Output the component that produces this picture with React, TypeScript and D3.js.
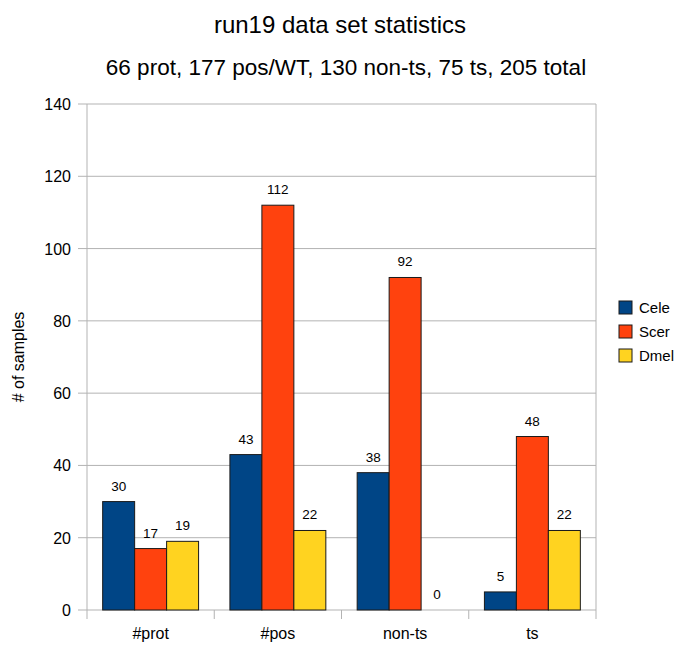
import React from "react";
import * as d3 from "d3";

const categories = ["#prot", "#pos", "non-ts", "ts"];
const seriesNames = ["Cele", "Scer", "Dmel"];
const cele = [30, 43, 38, 5];
const scer = [17, 112, 92, 48];
const dmel = [19, 22, 0, 22];
const yTicks = [0, 20, 40, 60, 80, 100, 120, 140];
const colors = ["#004586", "#ff420e", "#ffd320"];

const W = 675;
const H = 645;
const plot = { left: 87, right: 596, top: 104, bottom: 610 };
const font = "'Liberation Sans', Arial, sans-serif";

export default function App() {
  const series = [cele, scer, dmel];
  const x = d3
    .scaleBand<string>()
    .domain(categories)
    .range([plot.left, plot.right])
    .paddingInner(0)
    .paddingOuter(0);
  const inner = d3
    .scaleBand<string>()
    .domain(seriesNames)
    .range([0, x.bandwidth()])
    .paddingOuter(0.49)
    .paddingInner(0);
  const y = d3.scaleLinear().domain([0, 140]).range([plot.bottom, plot.top]);

  return (
    <svg
      width={W}
      height={H}
      style={{ position: "absolute", left: 0, top: 0, background: "#fff" }}
      fontFamily={font}
    >
      <text x={340} y={33} textAnchor="middle" fontSize={24} fill="#000">
        run19 data set statistics
      </text>
      <text x={346} y={75} textAnchor="middle" fontSize={22.5} fill="#000">
        66 prot, 177 pos/WT, 130 non-ts, 75 ts, 205 total
      </text>

      {/* grid and y ticks */}
      {yTicks.map((t) => (
        <g key={t}>
          <line
            x1={plot.left - 9}
            x2={plot.right}
            y1={y(t)}
            y2={y(t)}
            stroke="#b3b3b3"
            strokeWidth={1}
          />
          <text
            x={71}
            y={y(t) + 6}
            textAnchor="end"
            fontSize={16}
            fill="#000"
          >
            {t}
          </text>
        </g>
      ))}
      {/* y axis line */}
      <line
        x1={plot.left}
        x2={plot.left}
        y1={plot.top}
        y2={plot.bottom + 9}
        stroke="#b3b3b3"
      />
      {/* category separators */}
      {categories.map((c) => (
        <line
          key={c}
          x1={(x(c) as number) + x.bandwidth()}
          x2={(x(c) as number) + x.bandwidth()}
          y1={plot.bottom}
          y2={plot.bottom + 9}
          stroke="#b3b3b3"
        />
      ))}
      <line
        x1={plot.right}
        x2={plot.right}
        y1={plot.top}
        y2={plot.bottom}
        stroke="#b3b3b3"
      />

      {/* bars */}
      {categories.map((c, ci) =>
        seriesNames.map((s, si) => {
          const v = series[si][ci];
          const bx = (x(c) as number) + (inner(s) as number);
          const by = y(v);
          return (
            <g key={c + s}>
              {v > 0 && (
                <rect
                  x={bx}
                  y={by}
                  width={inner.bandwidth()}
                  height={y(0) - by}
                  fill={colors[si]}
                  stroke="#1a1a1a"
                  strokeWidth={1}
                />
              )}
              <text
                x={bx + inner.bandwidth() / 2}
                y={by - 11}
                textAnchor="middle"
                fontSize={13.5}
                fill="#000"
              >
                {v}
              </text>
            </g>
          );
        })
      )}

      {/* x labels */}
      {categories.map((c) => (
        <text
          key={c}
          x={(x(c) as number) + x.bandwidth() / 2}
          y={639}
          textAnchor="middle"
          fontSize={16}
          fill="#000"
        >
          {c}
        </text>
      ))}

      {/* y axis title */}
      <text
        transform={`translate(24, 357) rotate(-90)`}
        textAnchor="middle"
        fontSize={16}
        fill="#000"
      >
        # of samples
      </text>

      {/* legend */}
      {seriesNames.map((s, i) => (
        <g key={s} transform={`translate(619, ${301 + i * 24})`}>
          <rect
            x={0}
            y={0}
            width={13}
            height={13}
            fill={colors[i]}
            stroke="#1a1a1a"
          />
          <text x={20} y={12} fontSize={15} fill="#000">
            {s}
          </text>
        </g>
      ))}
    </svg>
  );
}
